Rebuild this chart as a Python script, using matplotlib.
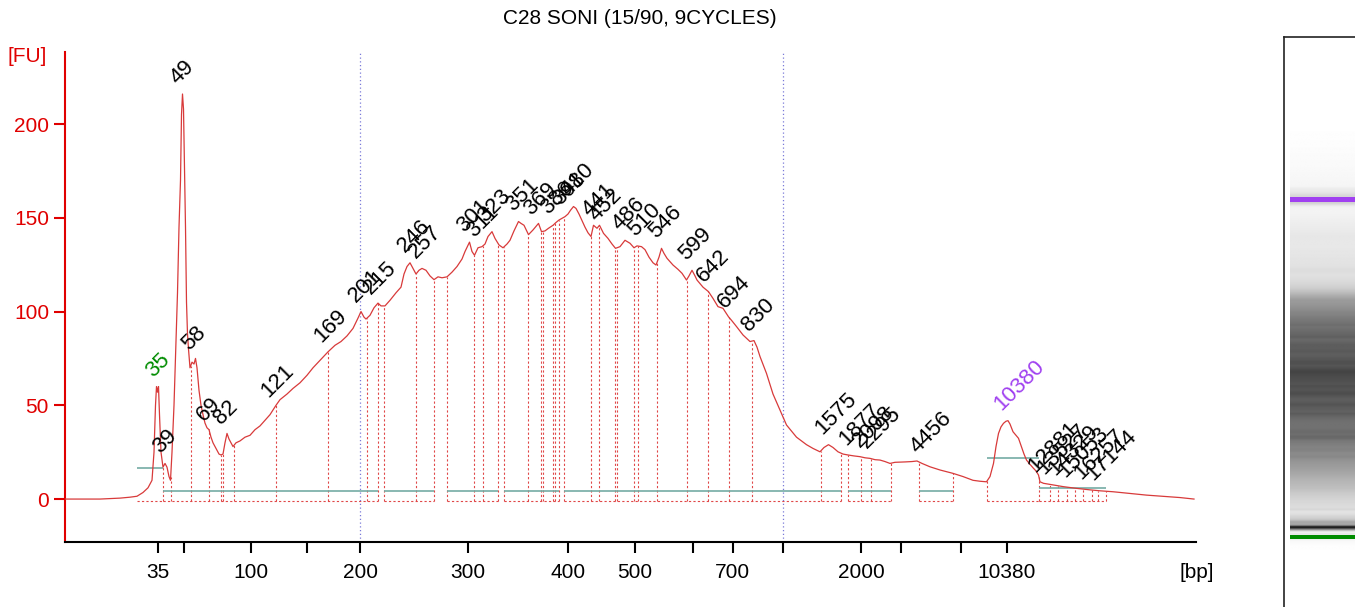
import numpy as np
import matplotlib
matplotlib.use("Agg")
import matplotlib.pyplot as plt

plt.rcParams['font.family'] = ['Liberation Sans', 'DejaVu Sans']

# ladder: fragment size (bp) -> migration time
ladder_bp = [35, 50, 100, 150, 200, 300, 400, 500, 600, 700, 1000, 2000, 3000, 7000, 10380]
ladder_t = [15.83, 18.43, 25.07, 30.67, 36.03, 46.83, 56.76, 63.47, 69.25, 73.28, 78.30, 86.10, 90.14, 96.10, 100.70]
ladder_shown = [35, 100, 200, 300, 400, 500, 700, 2000, 10380]

# electropherogram trace (time, FU)
trace_t = [6.5, 10.0, 12.0, 13.0, 13.7, 14.3, 14.8, 15.2, 15.4, 15.55, 15.65, 15.75, 15.85, 15.95,
           16.1, 16.3, 16.5, 16.7, 16.9, 17.05, 17.2, 17.4, 17.6, 17.75, 17.9, 18.05, 18.15, 18.25,
           18.35, 18.45, 18.55, 18.65, 18.75, 18.85, 19.0, 19.2, 19.4, 19.55, 19.7, 19.9, 20.1, 20.3,
           20.5, 20.7, 20.9, 21.1, 21.3, 21.5, 21.7, 21.9, 22.1, 22.3, 22.5, 22.7, 22.9, 23.1, 23.3,
           23.6, 24.0, 24.5, 25.0, 25.5, 26.0, 26.5, 27.0, 27.6, 28.0, 28.7, 29.3, 30.0, 30.7, 31.3,
           32.0, 32.8, 33.5, 34.1, 34.7, 35.3, 35.8, 36.1, 36.4, 36.6, 37.0, 37.4, 37.8, 38.1, 38.5,
           39.0, 39.6, 40.1, 40.4, 40.7, 41.0, 41.3, 41.6, 41.9, 42.2, 42.6, 43.0, 43.4, 43.8, 44.2,
           44.7, 45.2, 45.7, 46.2, 46.5, 46.95, 47.2, 47.45, 47.8, 48.2, 48.5, 48.8, 49.2, 49.5, 49.9,
           50.3, 50.7, 51.0, 51.4, 51.85, 52.1, 52.4, 52.85, 53.3, 53.85, 54.15, 54.5, 54.85, 55.3,
           55.6, 55.9, 56.2, 56.5, 56.8, 57.05, 57.35, 57.6, 57.9, 58.2, 58.5, 58.8, 59.1, 59.35,
           59.7, 59.95, 60.35, 60.8, 61.2, 61.55, 62.0, 62.5, 63.0, 63.4, 63.7, 64.15, 64.5, 64.9,
           65.3, 65.6, 65.9, 66.15, 66.4, 66.7, 67.3, 67.8, 68.2, 68.65, 68.9, 69.2, 69.5, 69.7,
           70.3, 70.85, 71.3, 71.8, 72.3, 72.85, 73.2, 73.65, 74.3, 75.0, 75.4, 75.7, 76.0, 76.65,
           77.3, 78.0, 78.65, 79.65, 80.65, 81.3, 82.0, 82.4, 82.85, 83.3, 83.8, 84.3, 84.8, 85.4,
           86.0, 86.5, 87.0, 87.5, 88.0, 88.5, 89.0, 89.5, 90.5, 91.2, 91.7, 92.2, 93.0, 94.0, 95.3,
           96.3, 97.3, 98.0, 98.65, 99.0, 99.35, 99.6, 99.85, 100.1, 100.35, 100.6, 100.8, 101.0,
           101.3, 101.6, 101.85, 102.15, 102.4, 102.65, 103.0, 103.35, 103.6, 103.85, 104.0, 104.35,
           105.0, 105.7, 106.35, 107.5, 109.0, 110.0, 111.3, 113.0, 114.65, 116.5, 118.0, 119.4]
trace_fu = [0, 0, 0.5, 1, 1.5, 3.5, 6, 10, 25, 50, 60, 57, 60, 45,
            25, 17, 19, 17, 12, 10, 25, 50, 85, 110, 145, 170, 205, 216,
            208, 175, 145, 105, 88, 80, 70, 73, 72, 75, 70, 58, 50, 45,
            40.5, 38, 37, 33, 30, 28, 26, 24, 23.5, 24, 30, 35, 32, 30, 28,
            30, 31, 33, 34, 37, 39, 42, 45, 50, 53, 56, 59, 62, 66, 70,
            74, 78.5, 82, 84, 87, 91, 96.5, 100, 97, 96, 98, 102, 104.5, 103, 103,
            106, 110, 113, 120, 124, 126, 123, 120, 122, 123, 122, 119, 117, 118.5, 118,
            118.5, 121, 124, 128, 132, 137, 132, 130, 134, 134.6, 136, 140, 142.6, 139, 135.5,
            134, 136, 138, 143, 148, 147, 146, 141, 143.5, 147, 142.6, 143, 144.4, 146,
            147.5, 148.8, 149.7, 150.6, 152, 154, 156, 155, 152, 148.5, 145, 142, 140, 146,
            144.4, 146, 141.7, 139, 136, 133.7, 134.6, 138, 136.4, 134, 135, 134.6, 133, 129,
            126, 124.8, 129, 133.7, 131, 128.4, 124.8, 122.5, 120.4, 116.8, 119, 122, 119, 116.8,
            113, 110.6, 107, 102.6, 101.7, 97.2, 95, 92, 87.5, 84, 84.5, 81, 76, 67,
            56, 47.5, 39.5, 33, 29, 27, 25.2, 27.5, 29, 27.5, 25.2, 24, 23.5, 23,
            22.6, 22, 21.7, 21, 20.8, 20, 19, 19.6, 19.8, 20, 20.3, 19, 17.2, 15.5, 13.7,
            12, 10, 9.5, 9.2, 12, 19, 28, 35, 38.5, 40.4, 41.5, 41.8, 40,
            35.9, 34, 32.4, 27.9, 24, 20.8, 18.5, 16.4, 15, 12.8, 9.2, 8.4,
            7.8, 7.2, 6.6, 5.8, 4.9, 4.4, 3.9, 3, 2.1, 1.4, 0.8, 0]

# called peaks (bp)
peak_bp = [35, 39, 49, 58, 69, 82, 121, 169, 201, 215, 246, 257, 301, 311, 323, 351, 369,
           386, 398, 410, 441, 452, 486, 510, 546, 599, 642, 694, 830, 1575, 1877, 2098, 2295,
           4456, 10380, 12881, 13527, 14329, 15053, 16257, 17144]
lower_marker = 35
upper_marker = 10380
region = [200, 1000]

# peak borders (time)
border_t = [16.27, 17.07, 19.07, 20.87, 22.1, 22.27, 23.43, 27.6, 32.83, 36.67, 37.83, 38.43,
            41.6, 43.43, 44.67, 47.43, 48.27, 49.83, 50.43, 52.83, 54.1, 54.27, 55.27, 55.5,
            55.93, 56.43, 59.07, 59.9, 61.5, 61.67, 63.43, 63.83, 65.67, 68.67, 70.83, 72.9,
            75.23, 82.07, 84.07, 84.83, 86.1, 87.07, 89.1, 91.9, 95.3, 98.73, 103.9, 105.0,
            105.8, 106.67, 107.5, 108.33, 109.17, 109.83, 110.6]
# baselines: start, end, level (FU)
base_start = [13.7, 16.27, 38.43, 44.67, 50.43, 56.43, 84.83, 91.9, 98.73, 103.9]
base_end = [16.27, 37.83, 43.43, 49.83, 55.93, 84.07, 89.1, 95.3, 103.9, 110.6]
base_level = [16.4, 4.5, 4.5, 4.5, 4.5, 4.5, 4.5, 4.5, 21.7, 5.7]


def bp_to_t(bp):
    bp = np.asarray(bp, dtype=float)
    t = np.interp(bp, ladder_bp, ladder_t)
    slope = (ladder_t[-1] - ladder_t[-2]) / (ladder_bp[-1] - ladder_bp[-2])
    return np.where(bp > ladder_bp[-1], ladder_t[-1] + (bp - ladder_bp[-1]) * slope, t)


RED = '#e00000'
TRACE = '#d83a3a'
DASH = '#e04848'
TEAL = '#74aca4'
GREEN = '#008c00'
PURPLE = '#a040f0'

fig = plt.figure(figsize=(13.55, 6.07), dpi=100)
ax = fig.add_axes([65 / 1355, 65 / 607, (1196 - 65) / 1355, (542 - 52) / 607])
ax.set_xlim(6.5, 119.6)
ax.set_ylim(-22.9, 238.4)

ax.plot(trace_t, trace_fu, color=TRACE, lw=0.9, zorder=3)

# peak borders
border_fu = np.interp(border_t, trace_t, trace_fu)
ax.vlines(border_t, -1, border_fu, colors=DASH, linestyles=(0, (2, 2)), lw=0.8, zorder=2)
for s, e, lv in zip(base_start, base_end, base_level):
    ax.hlines(lv, s, e, colors=TEAL, lw=1.2, zorder=2)
    ax.hlines(-1, s, e, colors=DASH, linestyles=(0, (2, 2)), lw=0.8, zorder=2)

# smear region
for r in region:
    ax.axvline(bp_to_t(r), color='#7a7ad8', ls=(0, (1, 2)), lw=0.9, zorder=1)

# peak labels
pk_t = bp_to_t(peak_bp)
pk_fu = np.interp(pk_t, trace_t, trace_fu)
for bp, t, fu in zip(peak_bp, pk_t, pk_fu):
    col = GREEN if bp == lower_marker else PURPLE if bp == upper_marker else 'black'
    ax.annotate(str(bp), xy=(t, fu), xytext=(-4, 7), textcoords='offset points',
                rotation=45, rotation_mode='anchor', ha='left', va='baseline',
                fontsize=16, color=col, zorder=4)

ax.set_xticks(bp_to_t(ladder_bp))
ax.set_xticklabels([str(b) if b in ladder_shown else '' for b in ladder_bp])
ax.set_yticks([0, 50, 100, 150, 200])
ax.tick_params(axis='x', direction='out', length=8, width=1.5, pad=7, labelsize=15, colors='black')
ax.tick_params(axis='y', direction='out', length=8, width=1.5, pad=3.5, labelsize=15, colors=RED)
for side in ['top', 'right']:
    ax.spines[side].set_visible(False)
ax.spines['left'].set_color(RED)
ax.spines['left'].set_linewidth(1.5)
ax.spines['bottom'].set_linewidth(1.5)

fig.text(640 / 1355, 1 - 18 / 607, 'C28 SONI (15/90, 9CYCLES)', ha='center', va='center', fontsize=15)
fig.text(27 / 1355, 1 - 57 / 607, '[FU]', ha='center', va='center', fontsize=15, color=RED)
fig.text(1197 / 1355, 1 - 572 / 607, '[bp]', ha='center', va='center', fontsize=15)

# gel lane
gax = fig.add_axes([1284 / 1355, 0, 80 / 1355, 570 / 607])
gax.set_xlim(0, 80)
gax.set_ylim(-1.8, 141.7)
rows = np.linspace(-1.8, 141.7, 900)
row_fu = np.interp(rows, trace_t, trace_fu, left=0, right=0)
gray = np.clip(255 - 1.2 * row_fu, 25, 255)
gax.imshow(gray[:, None], cmap='gray', vmin=0, vmax=255, extent=[6, 80, -1.8, 141.7],
           origin='lower', aspect='auto', interpolation='bilinear')
t_lo, t_hi = bp_to_t(lower_marker), bp_to_t(upper_marker)
gax.fill_between([6, 80], t_hi - 0.6, t_hi + 0.6, color=PURPLE, lw=0)
gax.fill_between([6, 80], t_lo - 0.6, t_lo + 0.6, color=GREEN, lw=0)
gax.set_xticks([])
gax.set_yticks([])
for side in ['right', 'bottom']:
    gax.spines[side].set_visible(False)
for side in ['left', 'top']:
    gax.spines[side].set_linewidth(1.2)
    gax.spines[side].set_color('#222222')

fig.savefig('out.png', dpi=100)
